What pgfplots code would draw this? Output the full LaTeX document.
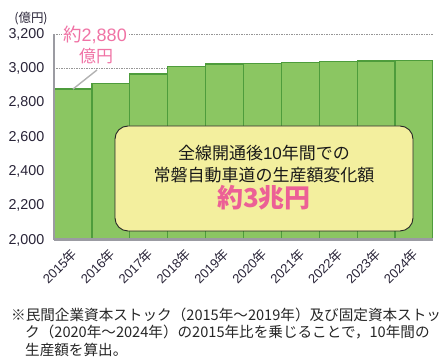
\documentclass[border=0pt]{standalone}
\usepackage{fontspec}
\setmainfont{Noto Sans CJK JP}
\newfontfamily\arial{Liberation Sans}
\newfontfamily\cjk{Noto Sans CJK JP}
\usepackage{pgfplots}
\pgfplotsset{compat=1.18}
\definecolor{barfill}{RGB}{139,198,98}
\definecolor{baredge}{RGB}{78,156,60}
\definecolor{boxfill}{RGB}{243,239,158}
\definecolor{pinkA}{RGB}{240,115,165}
\definecolor{pinkB}{RGB}{236,96,150}
\definecolor{axgray}{RGB}{155,155,162}
\definecolor{gridgray}{RGB}{150,150,150}
\definecolor{txt}{RGB}{40,35,55}
\begin{document}
\begin{tikzpicture}[x=1pt,y=1pt]
\useasboundingbox (0,0) rectangle (448,361);
\begin{axis}[
  at={(54pt,121pt)}, anchor=south west,
  scale only axis, width=379pt, height=205.8pt,
  xmin=-0.5, xmax=9.5, ymin=2000, ymax=3200,
  ytick={2000,2200,...,3200},
  yticklabels={{2,000},{2,200},{2,400},{2,600},{2,800},{3,000},{3,200}},
  xtick={0,...,9},
  xticklabels={2015{\cjk 年},2016{\cjk 年},2017{\cjk 年},2018{\cjk 年},2019{\cjk 年},2020{\cjk 年},2021{\cjk 年},2022{\cjk 年},2023{\cjk 年},2024{\cjk 年}},
  tick style={draw=none},
  axis line style={draw=none},
  ymajorgrids,
  grid style={gridgray, line width=1.1pt, dash pattern=on 1.1pt off 1.4pt},
  y tick label style={font=\arial\fontsize{14.3}{14.3}\selectfont, text=txt, anchor=east, inner sep=0pt, xshift=-9.5pt},
  x tick label style={font=\arial\fontsize{13}{13}\selectfont, text=txt, rotate=45, anchor=east, xshift=-3.5pt, yshift=-9.2pt},
]
\addplot[ybar, bar width=1, bar shift=0pt, fill=barfill, draw=baredge, line width=1.3pt]
  coordinates {(0,2880) (1,2914) (2,2968) (3,3010) (4,3026) (5,3030) (6,3034) (7,3040) (8,3043) (9,3046)};
\coordinate (O) at (axis cs:-0.5,2000);
\coordinate (T) at (axis cs:-0.5,3200);
\coordinate (R) at (axis cs:9.5,2000);
\coordinate (B0) at (axis cs:0,2880);
\end{axis}
\draw[axgray, line width=1.8pt] (O) -- (T);
\draw[axgray, line width=3pt] (O) -- (R);
\draw[black!30, line width=1.4pt] (B0) -- (97,291);
\node[fill=white, inner sep=1pt, text=pinkA, font=\fontsize{18.5}{18.5}\selectfont] at (95,326) {約{\arial\fontsize{18}{18}\selectfont 2,880}};
\node[text=pinkA, font=\fontsize{17}{17}\selectfont] at (96,305) {億円};
\node[text=txt, font=\fontsize{12.5}{12.5}\selectfont] at (31,343) {(億円)};
\draw[fill=boxfill, draw=black!85, line width=0.9pt, rounded corners=13pt] (115,130) rectangle (413,235);
\node[text=black!90, font=\fontsize{17}{17}\selectfont] at (264,208) {全線開通後{\arial 10}年間での};
\node[text=black!90, font=\fontsize{17}{17}\selectfont] at (264,186) {常磐自動車道の生産額変化額};
\node[text=pinkB, font=\fontsize{26}{26}\selectfont\bfseries] at (264,163) {約3兆円};
\begin{scope}[every node/.style={anchor=base west, inner sep=0pt, text=black!85, font=\fontsize{14.6}{14.6}\selectfont}]
\node at (11,40) {※民間企業資本ストック（2015年～2019年）及び固定資本ストッ};
\node at (25,23) {ク（2020年～2024年）の2015年比を乗じることで，10年間の};
\node at (25,5) {生産額を算出。};
\end{scope}
\end{tikzpicture}
\end{document}
